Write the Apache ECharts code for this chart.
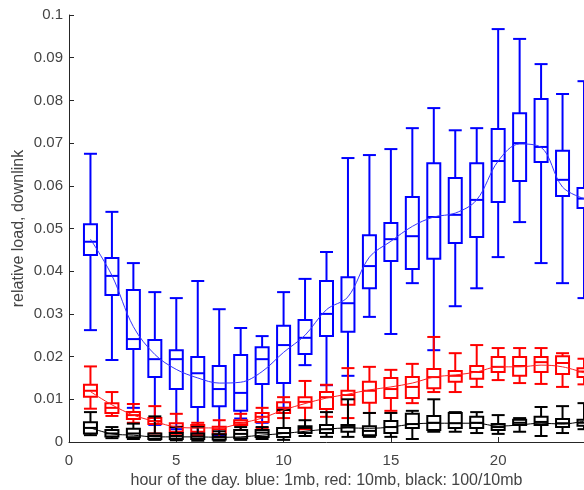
<!DOCTYPE html>
<html>
<head>
<meta charset="utf-8">
<script src="https://cdn.jsdelivr.net/npm/echarts@6/dist/echarts.min.js"></script>
<style>
  html, body { margin: 0; padding: 0; background: #fff; }
  #chart { width: 584px; height: 490px; }
</style>
</head>
<body>
<div id="chart"></div>
<script>
// hour of the day
const hours = [1, 2, 3, 4, 5, 6, 7, 8, 9, 10, 11, 12, 13, 14, 15, 16, 17, 18, 19, 20, 21, 22, 23, 24];

// blue: 1mb
const blueLow  = [0.0262, 0.0192, 0.008, 0.004, 0.003, 0.002, 0.0015, 0.0055, 0.0045, 0.008, 0.018, 0.0133, 0.0155, 0.0293, 0.0253, 0.0372, 0.0215, 0.0318, 0.036, 0.0433, 0.0515, 0.0419, 0.0372, 0.0337];
const blueQ1   = [0.0438, 0.0344, 0.0218, 0.0152, 0.0124, 0.0082, 0.0084, 0.0073, 0.0136, 0.0138, 0.0206, 0.0248, 0.0258, 0.036, 0.0424, 0.0405, 0.0429, 0.0466, 0.048, 0.0562, 0.0611, 0.0656, 0.0576, 0.0548];
const blueMed  = [0.0469, 0.0389, 0.0241, 0.0194, 0.0194, 0.0161, 0.0124, 0.0115, 0.0194, 0.0227, 0.0244, 0.030, 0.0325, 0.0412, 0.0475, 0.0482, 0.0527, 0.0532, 0.0567, 0.0658, 0.070, 0.0691, 0.0614, 0.057];
const blueQ3   = [0.051, 0.0431, 0.0356, 0.0239, 0.0215, 0.0199, 0.0178, 0.0204, 0.0222, 0.0272, 0.0286, 0.0377, 0.0386, 0.0484, 0.0513, 0.0574, 0.0653, 0.0618, 0.0653, 0.0733, 0.077, 0.0803, 0.0682, 0.0595];
const blueHigh = [0.0675, 0.0539, 0.0419, 0.0351, 0.0337, 0.0377, 0.0311, 0.0267, 0.0248, 0.0351, 0.0382, 0.0445, 0.0665, 0.0672, 0.0686, 0.0735, 0.0782, 0.073, 0.0735, 0.0967, 0.0944, 0.0885, 0.0815, 0.0845];
const blueMean = [0.0475, 0.039, 0.027, 0.0205, 0.017, 0.015, 0.0138, 0.014, 0.0165, 0.021, 0.025, 0.031, 0.034, 0.0433, 0.047, 0.0505, 0.0527, 0.0536, 0.0567, 0.0658, 0.0698, 0.069, 0.0597, 0.057];

// red: 10mb
const redLow  = [0.0078, 0.0061, 0.0045, 0.002, 0.0016, 0.0016, 0.0012, 0.0028, 0.0033, 0.0056, 0.003, 0.0059, 0.0056, 0.0068, 0.0073, 0.0091, 0.0117, 0.0117, 0.0129, 0.0145, 0.0138, 0.0136, 0.0129, 0.0135];
const redQ1   = [0.0106, 0.0068, 0.0054, 0.0042, 0.0024, 0.0024, 0.0019, 0.004, 0.0047, 0.0068, 0.008, 0.0077, 0.0087, 0.0092, 0.0103, 0.0103, 0.0126, 0.0141, 0.0148, 0.0164, 0.0155, 0.0164, 0.0159, 0.0152];
const redMed  = [0.012, 0.008, 0.0063, 0.0049, 0.0036, 0.0034, 0.003, 0.0045, 0.0059, 0.008, 0.0094, 0.0105, 0.011, 0.012, 0.0124, 0.0129, 0.0152, 0.0155, 0.0164, 0.0176, 0.0178, 0.0187, 0.0185, 0.0165];
const redQ3   = [0.0134, 0.0091, 0.007, 0.0056, 0.0044, 0.004, 0.0036, 0.0051, 0.0068, 0.0093, 0.0105, 0.0117, 0.012, 0.0141, 0.015, 0.0152, 0.0171, 0.0166, 0.0178, 0.0199, 0.0199, 0.0199, 0.0201, 0.0173];
const redHigh = [0.0177, 0.0117, 0.0089, 0.0084, 0.0066, 0.0045, 0.0051, 0.0066, 0.008, 0.0105, 0.0143, 0.0134, 0.0173, 0.0176, 0.0169, 0.0183, 0.0246, 0.0208, 0.0227, 0.022, 0.022, 0.022, 0.0208, 0.0195];
const redMean = [0.0118, 0.0087, 0.0063, 0.0048, 0.0035, 0.0033, 0.0033, 0.0044, 0.0056, 0.0075, 0.009, 0.0103, 0.0112, 0.0122, 0.0129, 0.0138, 0.0152, 0.0157, 0.0164, 0.0176, 0.0176, 0.018, 0.0176, 0.0162];

// black: 100/10mb
const blackLow  = [0.0016, 0.0009, 0.0007, 0.0005, 0.0004, 0.0003, 0.0003, 0.0005, 0.0007, 0.0005, 0.0014, 0.0012, 0.0012, 0.0012, 0.0012, 0.0007, 0.0024, 0.0024, 0.0021, 0.0019, 0.0024, 0.0014, 0.0021, 0.003];
const blackQ1   = [0.002, 0.0013, 0.0011, 0.0007, 0.0007, 0.0007, 0.0006, 0.0009, 0.0012, 0.0012, 0.0021, 0.0021, 0.0024, 0.0016, 0.0021, 0.0033, 0.0028, 0.0033, 0.0033, 0.0028, 0.004, 0.004, 0.0035, 0.0038];
const blackMed  = [0.0033, 0.002, 0.002, 0.0014, 0.0014, 0.0013, 0.0012, 0.0019, 0.0022, 0.0021, 0.0033, 0.003, 0.0035, 0.0026, 0.0035, 0.0042, 0.0045, 0.0044, 0.0045, 0.0035, 0.0045, 0.0047, 0.0044, 0.0045];
const blackQ3   = [0.0046, 0.0028, 0.0031, 0.002, 0.0021, 0.002, 0.0018, 0.0028, 0.0028, 0.0033, 0.0037, 0.004, 0.004, 0.0037, 0.0049, 0.0066, 0.0061, 0.0068, 0.0059, 0.0042, 0.0052, 0.0059, 0.0054, 0.0052];
const blackHigh = [0.007, 0.0035, 0.0043, 0.006, 0.0035, 0.0035, 0.0025, 0.0035, 0.0035, 0.0075, 0.0051, 0.007, 0.01, 0.0068, 0.0068, 0.0073, 0.01, 0.007, 0.007, 0.0063, 0.0056, 0.0082, 0.0084, 0.0091];
const blackMean = [0.0033, 0.0019, 0.0016, 0.0012, 0.0012, 0.0012, 0.0011, 0.0012, 0.0016, 0.002, 0.0025, 0.003, 0.0033, 0.0032, 0.0035, 0.0042, 0.0044, 0.0044, 0.0044, 0.0037, 0.004, 0.0044, 0.0042, 0.0049];

const BOX_HALF = 6.5;

function boxRows(low, q1, med, q3, high) {
  return hours.map((h, i) => [h, low[i], q1[i], med[i], q3[i], high[i]]);
}

function boxRenderer(color) {
  return function (params, api) {
    const x = api.value(0);
    const p = [1, 2, 3, 4, 5].map(i => api.coord([x, api.value(i)]));
    const cx = p[0][0];
    const style = { stroke: color, lineWidth: 2, fill: 'none' };
    const seg = (x1, y1, x2, y2) => ({ type: 'line', shape: { x1, y1, x2, y2 }, style });
    return {
      type: 'group',
      children: [
        seg(cx, p[4][1], cx, p[3][1]),
        seg(cx, p[1][1], cx, p[0][1]),
        seg(cx - BOX_HALF, p[4][1], cx + BOX_HALF, p[4][1]),
        seg(cx - BOX_HALF, p[0][1], cx + BOX_HALF, p[0][1]),
        {
          type: 'rect',
          shape: { x: cx - BOX_HALF, y: p[3][1], width: BOX_HALF * 2, height: p[1][1] - p[3][1] },
          style
        },
        seg(cx - BOX_HALF, p[2][1], cx + BOX_HALF, p[2][1])
      ]
    };
  };
}

function boxSeries(name, color, rows) {
  return {
    name: name,
    type: 'custom',
    renderItem: boxRenderer(color),
    encode: { x: 0, y: [1, 2, 3, 4, 5] },
    data: rows,
    z: 2
  };
}

function meanSeries(name, color, values) {
  return {
    name: name,
    type: 'line',
    data: hours.map((h, i) => [h, values[i]]),
    smooth: 0.35,
    showSymbol: false,
    lineStyle: { color: color, width: 1 },
    z: 3
  };
}

const chart = echarts.init(document.getElementById('chart'));

const axisColor = '#262626';
const labelColor = '#444';

chart.setOption({
  animation: false,
  textStyle: { fontFamily: 'Liberation Sans, Arial, sans-serif' },
  grid: { left: 69, right: 0, top: 15, bottom: 48, outerBoundsMode: 'none' },
  xAxis: {
    type: 'value',
    min: 0,
    max: 24,
    interval: 5,
    name: 'hour of the day. blue: 1mb, red: 10mb, black: 100/10mb',
    nameLocation: 'middle',
    nameGap: 31,
    nameMoveOverlap: false,
    nameTextStyle: { fontSize: 16, color: labelColor },
    axisLine: { lineStyle: { color: axisColor } },
    axisTick: { inside: true, length: 5, lineStyle: { color: axisColor } },
    axisLabel: { fontSize: 15, color: labelColor, margin: 11, showMaxLabel: false },
    splitLine: { show: false }
  },
  yAxis: {
    type: 'value',
    min: 0,
    max: 0.1,
    interval: 0.01,
    name: 'relative load, downlink',
    nameLocation: 'middle',
    nameGap: 42,
    nameMoveOverlap: false,
    nameTextStyle: { fontSize: 16, color: labelColor },
    axisLine: { show: true, lineStyle: { color: axisColor } },
    axisTick: { show: true, inside: true, length: 5, lineStyle: { color: axisColor } },
    axisLabel: { fontSize: 15, color: labelColor, margin: 6 },
    splitLine: { show: false }
  },
  series: [
    boxSeries('blue', '#0000ff', boxRows(blueLow, blueQ1, blueMed, blueQ3, blueHigh)),
    meanSeries('blue mean', '#3333ff', blueMean),
    boxSeries('red', '#ff0000', boxRows(redLow, redQ1, redMed, redQ3, redHigh)),
    meanSeries('red mean', '#ff2020', redMean),
    boxSeries('black', '#000000', boxRows(blackLow, blackQ1, blackMed, blackQ3, blackHigh)),
    meanSeries('black mean', '#000000', blackMean)
  ]
});
</script>
</body>
</html>
